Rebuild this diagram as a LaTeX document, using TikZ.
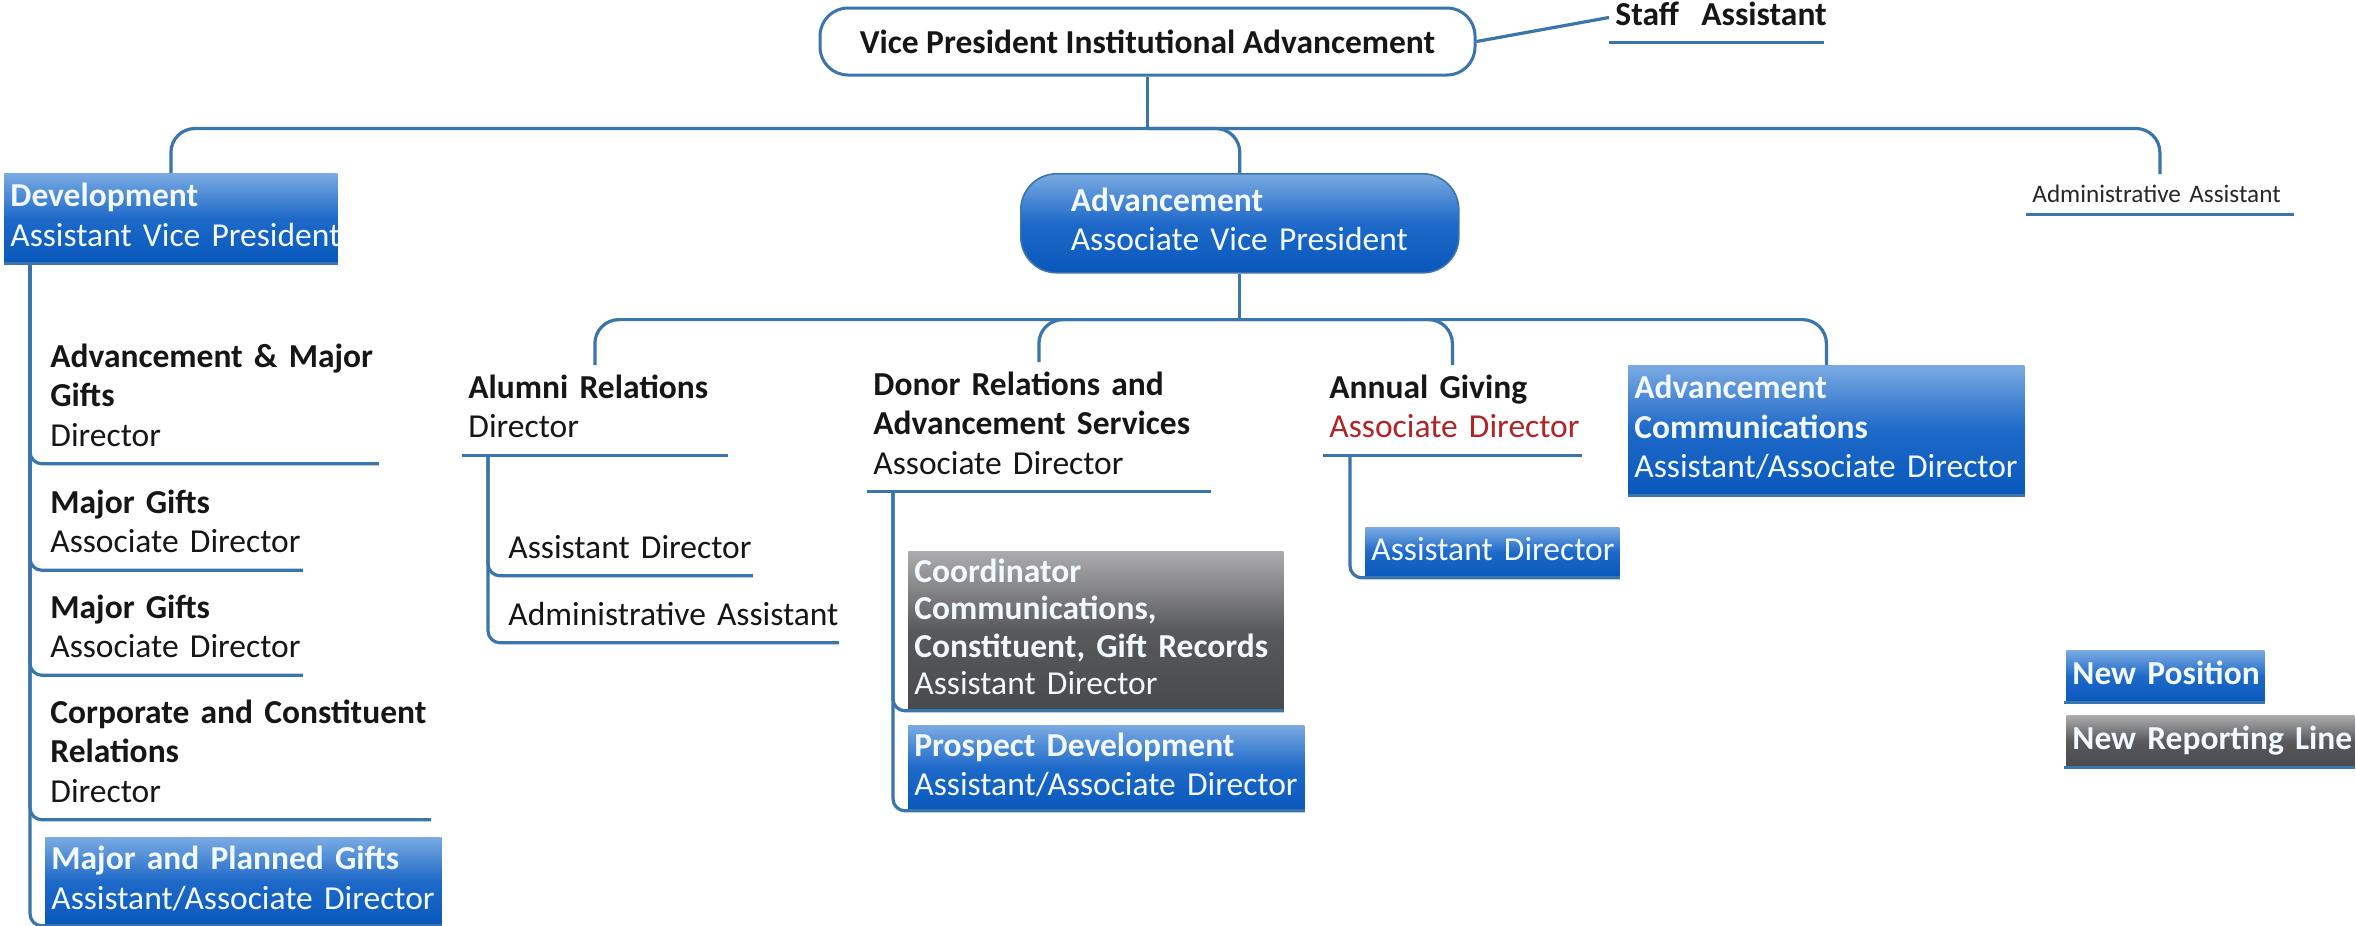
\documentclass[tikz,border=0pt]{standalone}
\usepackage{fontspec}
\setmainfont{Carlito}
\usetikzlibrary{calc}
\hyphenpenalty=10000
\exhyphenpenalty=10000

\definecolor{LineBlue}{RGB}{58,117,172}
\definecolor{BoxTop}{RGB}{122,170,226}
\definecolor{BoxMid}{RGB}{30,105,200}
\definecolor{BoxBot}{RGB}{8,88,188}
\definecolor{GrayTop}{RGB}{172,172,174}
\definecolor{GrayMid}{RGB}{88,89,92}
\definecolor{GrayBot}{RGB}{72,74,78}
\definecolor{InkBlack}{RGB}{22,22,22}
\definecolor{InkDark}{RGB}{40,40,40}
\definecolor{InkRed}{RGB}{178,36,40}
\definecolor{BoxText}{RGB}{242,248,255}

\begin{document}
\begin{tikzpicture}[x=0.5pt,y=-0.5pt,
  conn/.style={draw=LineBlue, line width=1.6pt, line join=round},
  joint/.style={conn, rounded corners=12pt},
  spine/.style={conn, rounded corners=6pt},
  txt/.style={font=\fontsize{16.75}{19.75}\selectfont, text=InkBlack},
  topic/.style={txt, anchor=north west, align=left, inner xsep=3pt, inner ysep=2.575pt,
    execute at begin node=\strut, execute at end node=\strut},
  box/.style={txt, text=BoxText, anchor=north west, align=left, inner xsep=3pt, inner ysep=0pt,
    execute at begin node=\strut, execute at end node=\strut},
  bluebox/.style={box, top color=BoxTop, bottom color=BoxBot, middle color=BoxMid},
  graybox/.style={box, top color=GrayTop, bottom color=GrayBot, middle color=GrayMid},
  vpbox/.style={font=\fontsize{16.75}{19.75}\selectfont\bfseries, text=InkBlack,
    draw=LineBlue, line width=1.5pt, fill=white, rounded corners=14pt,
    minimum width=327.5pt, minimum height=33.5pt, inner sep=0pt}
]
\useasboundingbox (0,0) rectangle (2356,926);
\fill[white] (0,0) rectangle (2356,926);

% top of the chart
\node[vpbox] (vp) at (1147.5,41.5) {Vice President Institutional Advancement};
\node[topic, text width=101pt, font=\fontsize{16.75}{19.75}\selectfont\bfseries] (staff) at (1609,-7.8) {Staff~~Assistant};
\node[topic, text width=127.5pt, font=\fontsize{12.6}{20}\selectfont, inner ysep=0pt, text=InkDark] (admin) at (2026,174) {Administrative~Assistant};

\node[bluebox, text width=160.5pt, minimum height=45pt] (dev) at (4,173) {\textbf{Development}\\Assistant~Vice~President};
\node[bluebox, draw=LineBlue, line width=0.8pt, rounded corners=18pt, inner xsep=25pt,
  text width=169pt, minimum height=49.5pt] (adv) at (1020,173) {\textbf{Advancement}\\Associate~Vice~President};

% development branch
\node[topic, text width=161pt] (dev1) at (44,334.2) {\textbf{Advancement~\&~Major}\\\textbf{Gifts}\\Director};
\node[topic, text width=123pt] (dev2) at (44,480.2) {\textbf{Major~Gifts}\\Associate~Director};
\node[topic, text width=123pt] (dev3) at (44,585.2) {\textbf{Major~Gifts}\\Associate~Director};
\node[topic, text width=187pt] (dev4) at (44,690.2) {\textbf{Corporate~and~Constituent}\\\textbf{Relations}\\Director};
\node[bluebox, text width=192pt, minimum height=44pt] (dev5) at (45,837) {\textbf{Major~and~Planned~Gifts}\\Assistant/Associate~Director};

% advancement branch
\node[topic, text width=126.5pt] (alumni) at (462,365.2) {\textbf{Alumni~Relations}\\Director};
\node[topic, text width=119pt] (alum1) at (502,525.2) {Assistant~Director};
\node[topic, text width=162pt] (alum2) at (502,592.2) {Administrative~Assistant};

\node[topic, text width=165.5pt] (donor) at (867,362.2) {\textbf{Donor~Relations~and}\\\textbf{Advancement~Services}\\Associate~Director};
\node[graybox, font=\fontsize{16.75}{18.75}\selectfont, text width=181.5pt, minimum height=79.5pt] (coord) at (908,551) {\textbf{Coordinator}\\\textbf{Communications,}\\\textbf{Constituent,~Gift~Records}\\Assistant~Director};
\node[bluebox, text width=192pt, minimum height=42.5pt] (prosp) at (908,725) {\textbf{Prospect~Development}\\Assistant/Associate~Director};

\node[topic, text width=123pt] (annual) at (1323,365.2) {\textbf{Annual~Giving}\\\textcolor{InkRed}{Associate~Director}};
\node[bluebox, text width=121pt, minimum height=25pt] (ann1) at (1365,527) {Assistant~Director};

\node[bluebox, text width=192pt, minimum height=65pt] (advcomm) at (1628,365) {\textbf{Advancement}\\\textbf{Communications}\\Assistant/Associate~Director};

% legend
\node[bluebox, text width=93pt, minimum height=26pt] (newpos) at (2066,650) {\textbf{New~Position}};
\node[graybox, text width=138pt, minimum height=26pt] (newrep) at (2066,715) {\textbf{New~Reporting~Line}};

% junction points of the reporting lines
\coordinate (vpjoin) at ([yshift=-26pt]vp.south);
\coordinate (advjoin) at ([yshift=-23pt]adv.south);
\coordinate (devsp) at ([xshift=13pt]dev.south west);
\coordinate (alsp) at ([xshift=13pt]alumni.south west);
\coordinate (donsp) at ([xshift=13pt]donor.south west);
\coordinate (annsp) at ([xshift=13.5pt]annual.south west);

% reporting lines
\draw[conn] (vp.east) -- (staff.west);
\draw[conn] (staff.south west) -- (staff.south east);
\draw[conn] (vp.south) -- (vpjoin);
\draw[joint] (vpjoin) -| (dev.north);
\draw[joint] (vpjoin) -| (adv.north);
\draw[joint] (vpjoin) -| (admin.north);
\draw[conn] (admin.south west) -- (admin.south east);

\draw[conn] (dev.south west) -- (dev.south east);
\foreach \kid in {dev1,dev2,dev3,dev4,dev5} \draw[spine] (devsp) |- (\kid.south east);

\draw[conn] (adv.south) -- (advjoin);
\foreach \kid in {alumni,donor,annual,advcomm} \draw[joint] (advjoin) -| (\kid.north);

\draw[conn] (alumni.south west) -- (alumni.south east);
\foreach \kid in {alum1,alum2} \draw[spine] (alsp) |- (\kid.south east);

\draw[conn] (donor.south west) -- (donor.south east);
\foreach \kid in {coord,prosp} \draw[spine] (donsp) |- (\kid.south east);

\draw[conn] (annual.south west) -- (annual.south east);
\draw[spine] (annsp) |- (ann1.south east);

\draw[conn] (advcomm.south west) -- (advcomm.south east);
\draw[conn] ([xshift=-1pt]newpos.south west) -- (newpos.south east);
\draw[conn] ([xshift=-1pt]newrep.south west) -- (newrep.south east);
\end{tikzpicture}
\end{document}
